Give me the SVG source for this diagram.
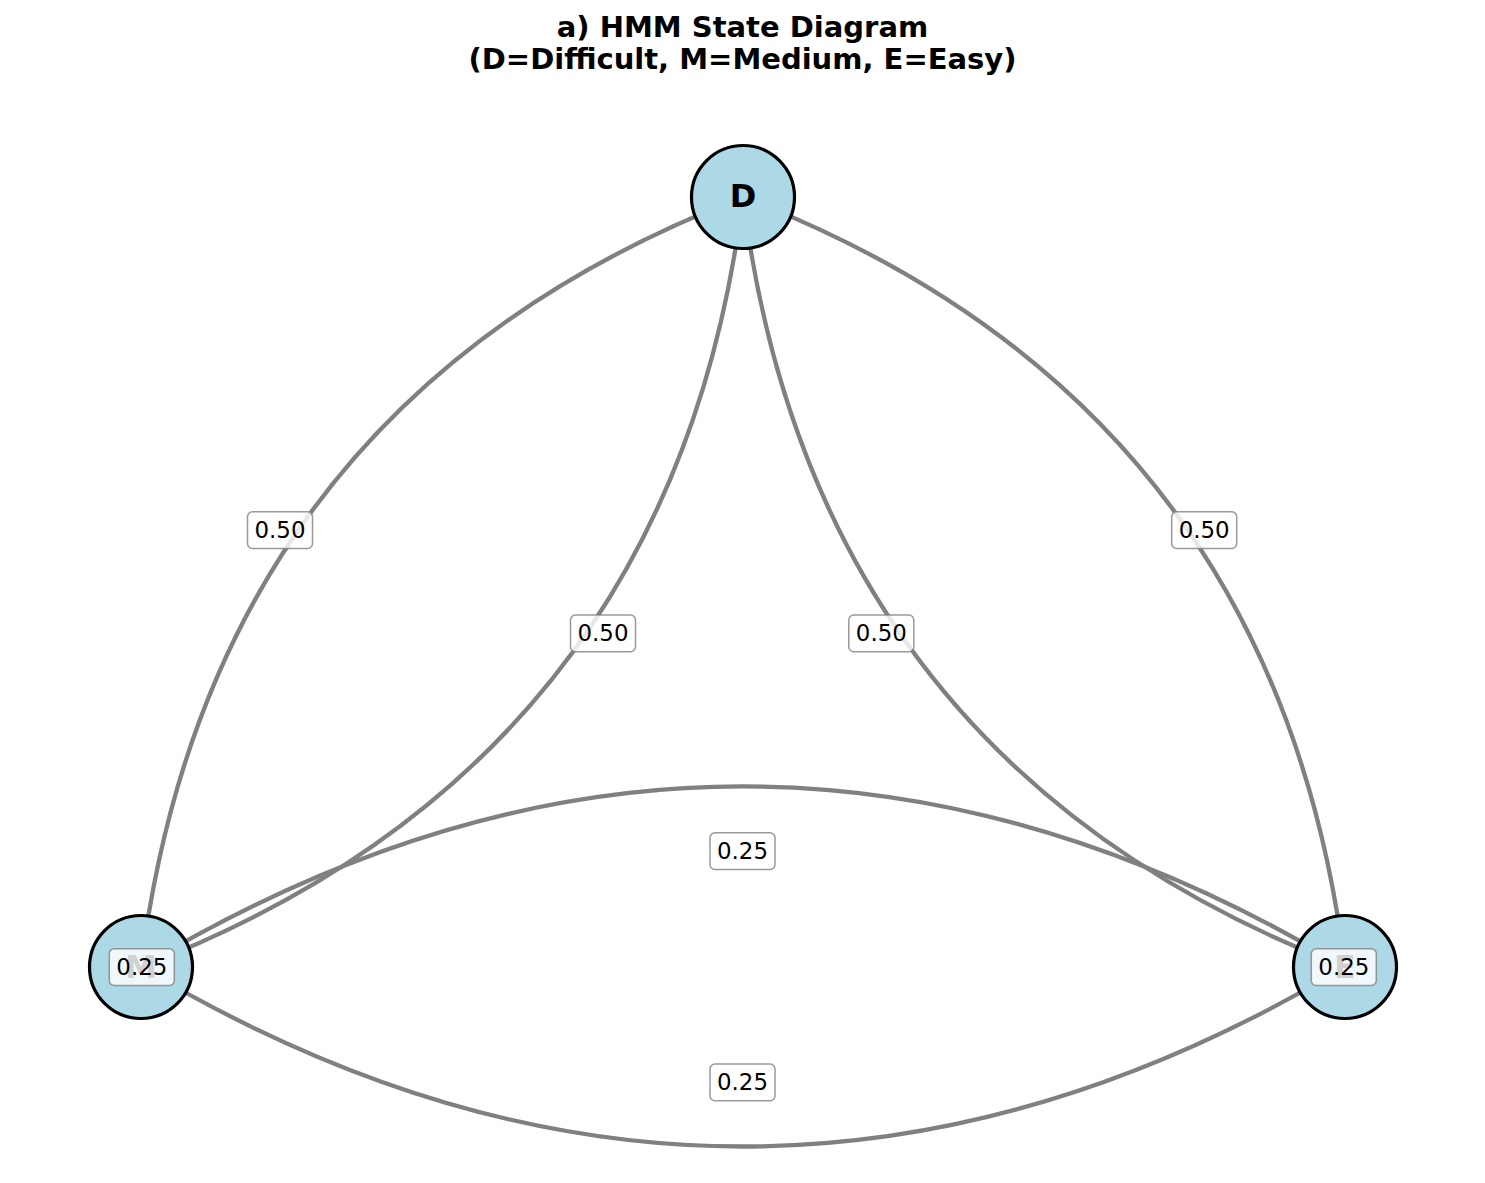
<svg xmlns="http://www.w3.org/2000/svg" width="1485" height="1183" viewBox="0 0 1485 1183">
<style>
.edge{fill:none;stroke:#808080;stroke-width:4.3;}
.node circle{fill:#add8e6;stroke:#000;stroke-width:3.2;}
.nlabel{font-family:"DejaVu Sans",sans-serif;font-weight:bold;font-size:32px;text-anchor:middle;fill:#000;}
.lbox{fill:#fff;fill-opacity:0.82;stroke:#808080;stroke-opacity:0.8;stroke-width:1.5;}
.ltext{font-family:"DejaVu Sans",sans-serif;font-size:22.9px;text-anchor:middle;fill:#000;}
.title{font-family:"DejaVu Sans",sans-serif;font-weight:bold;font-size:29px;text-anchor:middle;fill:#000;}
</style>
<rect width="1485" height="1183" fill="#fff"/>
<g id="title">
<text class="title" x="742.5" y="37">a) HMM State Diagram</text>
<text class="title" x="742.5" y="69">(D=Difficult, M=Medium, E=Easy)</text>
</g>
<g id="edges">
<path class="edge" d="M743,197 Q211,401.4 141,967"/>
<path class="edge" d="M743,197 Q673,762.6 141,967"/>
<path class="edge" d="M743,197 Q1275,401.4 1345,967"/>
<path class="edge" d="M743,197 Q813,762.6 1345,967"/>
<path class="edge" d="M141,967 Q743,605.8 1345,967"/>
<path class="edge" d="M141,967 Q743,1326 1345,967"/>
</g>
<g id="node-D" class="node">
<circle cx="743" cy="197" r="51.5"/>
<text class="nlabel" x="743" y="207">D</text>
</g>
<g id="node-M" class="node">
<circle cx="141" cy="967" r="51.5"/>
<text class="nlabel" x="141" y="978">M</text>
</g>
<g id="node-E" class="node">
<circle cx="1345" cy="967" r="51.5"/>
<text class="nlabel" x="1345" y="978">E</text>
</g>
<g id="edge-labels">
<rect class="lbox" x="247.5" y="511.7" width="65" height="36.7" rx="5"/>
<text class="ltext" x="280" y="538">0.50</text>
<rect class="lbox" x="570.5" y="615" width="65" height="36.7" rx="5"/>
<text class="ltext" x="603" y="641.3">0.50</text>
<rect class="lbox" x="848.8" y="615" width="65" height="36.7" rx="5"/>
<text class="ltext" x="881.3" y="641.3">0.50</text>
<rect class="lbox" x="1171.7" y="511.7" width="65" height="36.7" rx="5"/>
<text class="ltext" x="1204.2" y="538">0.50</text>
<rect class="lbox" x="710" y="832.7" width="65" height="36.7" rx="5"/>
<text class="ltext" x="742.5" y="859">0.25</text>
<rect class="lbox" x="710" y="1064" width="65" height="36.7" rx="5"/>
<text class="ltext" x="742.5" y="1090.3">0.25</text>
<rect class="lbox" x="109.3" y="948.7" width="65" height="36.7" rx="5"/>
<text class="ltext" x="141.8" y="975">0.25</text>
<rect class="lbox" x="1311.3" y="948.7" width="65" height="36.7" rx="5"/>
<text class="ltext" x="1343.8" y="975">0.25</text>
</g>
</svg>
